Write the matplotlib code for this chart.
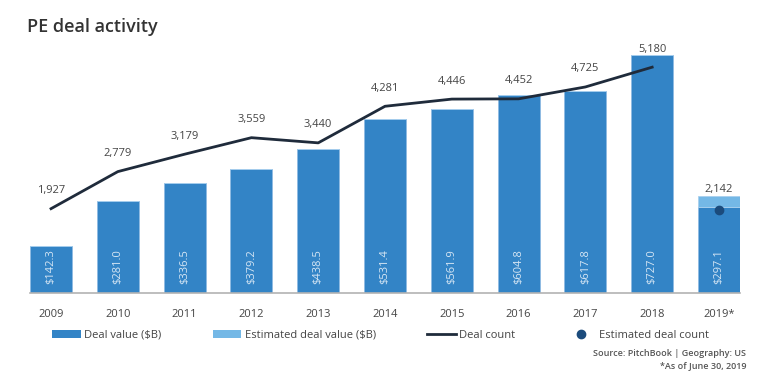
import matplotlib
matplotlib.use("Agg")
import matplotlib.pyplot as plt
from matplotlib.patches import Patch
from matplotlib.lines import Line2D

plt.rcParams['font.family'] = ['Open Sans', 'DejaVu Sans']

# data
years = ['2009', '2010', '2011', '2012', '2013', '2014', '2015', '2016', '2017', '2018', '2019*']
deal_value = [142.3, 281.0, 336.5, 379.2, 438.5, 531.4, 561.9, 604.8, 617.8, 727.0, 261.0]
est_value = [0, 0, 0, 0, 0, 0, 0, 0, 0, 0, 36.1]
value_labels = ['$142.3', '$281.0', '$336.5', '$379.2', '$438.5', '$531.4',
                '$561.9', '$604.8', '$617.8', '$727.0', '$297.1']
deal_count = [1927, 2779, 3179, 3559, 3440, 4281, 4446, 4452, 4725, 5180]
est_count = 1890
est_count_label = '2,142'

dark_blue = '#3384c6'
light_blue = '#74b8e6'
line_col = '#1f2b3b'
dot_col = '#1b4b7c'
text_col = '#444444'

fig = plt.figure(figsize=(7.8, 3.78), dpi=100)
ax = fig.add_axes([30 / 780, 1 - 292.5 / 378, 710 / 780, 261 / 378])
x = list(range(len(years)))
w = 0.63

ax.bar(x, deal_value, width=w, color=dark_blue, edgecolor='#8fbbe3', linewidth=0.6, zorder=2)
ax.bar(x, est_value, width=w, bottom=deal_value, color=light_blue, edgecolor='#a9d0ee',
       linewidth=0.6, zorder=2)
for xi, lab in zip(x, value_labels):
    ax.text(xi, 26, lab, rotation=90, ha='center', va='bottom', fontsize=8,
            color='#d6e6f4', zorder=3)

ax.set_xlim(-w / 2, len(years) - 1 + w / 2)
ax.set_ylim(0, 800)
ax.set_xticks(x)
ax.set_xticklabels(years, fontsize=8, color=text_col)
ax.tick_params(axis='x', length=0, pad=12)
ax.set_yticks([])
for s in ['top', 'right', 'left']:
    ax.spines[s].set_visible(False)
ax.spines['bottom'].set_color('#b3b3b3')
ax.spines['bottom'].set_linewidth(1.2)

ax2 = ax.twinx()
ax2.set_ylim(0, 6000)
ax2.set_yticks([])
for s in ['top', 'right', 'left', 'bottom']:
    ax2.spines[s].set_visible(False)
ax2.plot(x[:len(deal_count)], deal_count, color=line_col, linewidth=2, zorder=4)
for xi, c in zip(x, deal_count):
    ax2.annotate(f'{c:,}', (xi, c), xytext=(0, 13), textcoords='offset points',
                 ha='center', va='center', fontsize=8, color=text_col)
ax2.plot([x[-1]], [est_count], 'o', color=dot_col, markersize=6, zorder=5)
ax2.annotate(est_count_label, (x[-1], est_count), xytext=(0, 15), textcoords='offset points',
             ha='center', va='center', fontsize=8, color=text_col)

fig.text(27 / 780, 1 - 27 / 378, 'PE deal activity', fontsize=13, fontweight='semibold',
         color='#333333', va='center', ha='left')

handles = [Patch(facecolor=dark_blue, label='Deal value ($B)'),
           Patch(facecolor=light_blue, label='Estimated deal value ($B)'),
           Line2D([], [], color=line_col, linewidth=2, label='Deal count'),
           Line2D([], [], marker='o', color=dot_col, linestyle='none', markersize=6,
                  label='Estimated deal count')]
fig.legend(handles=handles, loc='center left', bbox_to_anchor=(42 / 780, 1 - 335 / 378),
           ncol=4, frameon=False, fontsize=8, handlelength=2.6, handletextpad=0.3,
           columnspacing=4.6, labelcolor=text_col)

fig.text(746 / 780, 1 - 354 / 378, 'Source: PitchBook | Geography: US', fontsize=6.5,
         fontweight='semibold', color='#555555', ha='right', va='center')
fig.text(746 / 780, 1 - 366 / 378, '*As of June 30, 2019', fontsize=6.5,
         fontweight='semibold', color='#555555', ha='right', va='center')

fig.savefig('out.png', dpi=100)
